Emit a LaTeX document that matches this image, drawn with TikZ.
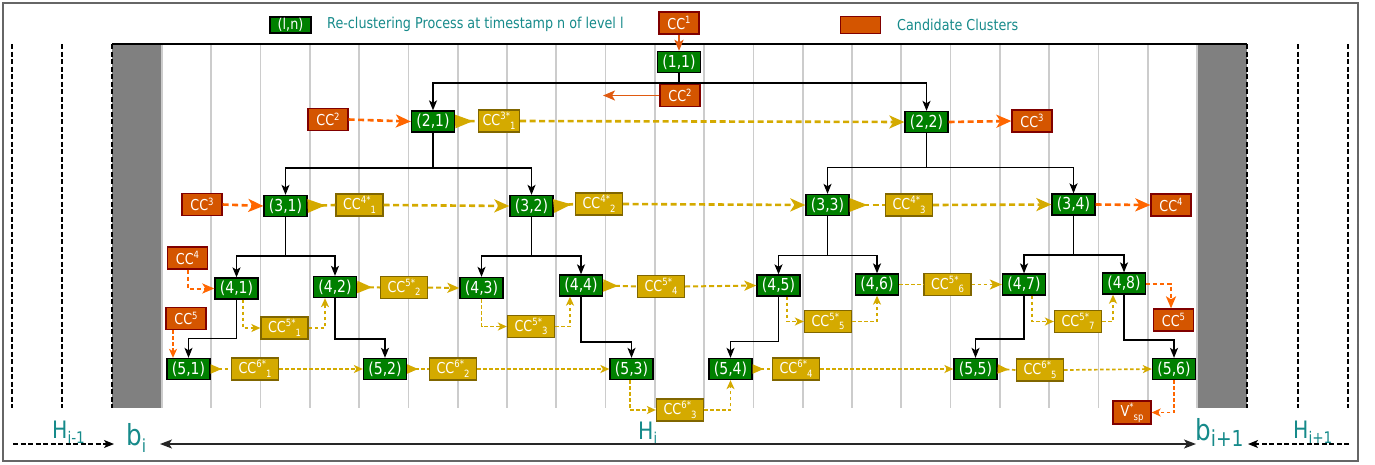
\documentclass[tikz,border=0pt]{standalone}
\usepackage{fontspec}
\newfontfamily\dvs[FakeStretch=0.85]{DejaVu Sans}
\usetikzlibrary{arrows.meta}
\newcommand\myfs[1]{\fontsize{#1}{#1}\selectfont}
\newcommand\ccone[1]{CC\raisebox{5.5pt}{\myfs{10}#1}}
\newcommand\cctwo[2]{CC\raisebox{6pt}{\myfs{10}#1}\raisebox{-3.5pt}{\myfs{10}#2}}
\definecolor{grnc}{HTML}{008000}
\definecolor{ylwc}{HTML}{D4AA00}
\definecolor{ylwb}{HTML}{806600}
\definecolor{orgc}{HTML}{D45500}
\definecolor{orgb}{HTML}{800000}
\definecolor{orga}{HTML}{FF6600}
\definecolor{orgs}{HTML}{E05A10}
\definecolor{gridc}{HTML}{CCCCCC}
\definecolor{barc}{HTML}{808080}
\definecolor{framec}{HTML}{666666}
\definecolor{tealc}{HTML}{168A8A}
\tikzset{
 bigS/.tip={Stealth[length=15pt,width=13pt,inset=4pt]},
 midS/.tip={Stealth[length=12pt,width=10pt,inset=3pt]},
 smlS/.tip={Stealth[length=9pt,width=8pt,inset=2.5pt]},
 bigR/.tip={Triangle[reversed,length=18pt,width=13pt]},
 midR/.tip={Triangle[reversed,length=15pt,width=12pt]},
 smlR/.tip={Triangle[reversed,length=11pt,width=9pt]},
 gbox/.style={draw=black, fill=grnc, line width=1.3pt, text=white, minimum width=43pt, minimum height=21pt, inner sep=0pt, font=\dvs\myfs{16.5}},
 ybox/.style={draw=ylwb, fill=ylwc, line width=1.3pt, text=white, minimum width=47pt, minimum height=22pt, inner sep=0pt, font=\dvs\myfs{15}},
 obox/.style={draw=orgb, fill=orgc, line width=1.3pt, text=white, minimum width=40pt, minimum height=22pt, inner sep=0pt, font=\dvs\myfs{15}},
 tree/.style={draw=black, line width=1.5pt, -{Stealth[length=10pt,width=8pt,inset=2.5pt]}},
 ythick/.style={draw=ylwc, line width=2.6pt, dash pattern=on 6pt off 3.5pt},
 ymid/.style={draw=ylwc, line width=2pt, dash pattern=on 5pt off 3pt},
 ythin/.style={draw=ylwc, line width=1.7pt, dash pattern=on 3.5pt off 2.5pt},
 othick/.style={draw=orga, line width=2.6pt, dash pattern=on 6pt off 3.5pt},
 omid/.style={draw=orga, line width=2pt, dash pattern=on 4pt off 3pt},
 othin/.style={draw=orga, line width=1.7pt, dash pattern=on 3.5pt off 2.5pt},
 osolid/.style={draw=orgs, line width=1.9pt},
 gridl/.style={draw=gridc, line width=1.6pt},
 dsh/.style={draw=black, line width=1.2pt, dash pattern=on 5pt off 2.5pt},
 lab/.style={text=tealc, inner sep=0pt, font=\dvs\myfs{15}},
 blab/.style={text=tealc, inner sep=0pt},
}
\begin{document}
\begin{tikzpicture}[x=1pt,y=-1pt]
\useasboundingbox (0,0) rectangle (1375,464);
\draw[framec, line width=2pt] (2.5,3) rectangle (1358,461);
% background scene
\fill[barc] (112,44) rectangle (162,408);
\fill[barc] (1197,44) rectangle (1247,408);
\foreach \k in {0,...,21} \draw[gridl] ({162+\k*49.2857},44) -- ({162+\k*49.2857},408);
\draw[black, line width=1.5pt] (112,44) -- (1247,44);
\foreach \xx in {12,62,112,1247,1298,1348} \draw[dsh] (\xx,44) -- (\xx,408);
% legend
\node[gbox, minimum width=41pt, minimum height=16pt, font=\dvs\myfs{15}] (lg) at (290.5,25) {(l,n)};
\node[lab, anchor=west] (lgt) at (327,24.5) {Re-clustering Process at timestamp n of level l};
\node[obox, minimum width=40pt, minimum height=17pt] (lo) at (860.5,25) {};
\node[lab, anchor=west] (lot) at (897,24.5) {Candidate Clusters};
% green nodes
\node[gbox] (n11) at (679,62) {(1,1)};
\node[gbox] (n21) at (433,121.5) {(2,1)};
\node[gbox] (n22) at (926.5,122) {(2,2)};
\node[gbox] (n31) at (285.5,206) {(3,1)};
\node[gbox] (n32) at (531.5,206) {(3,2)};
\node[gbox] (n33) at (827.5,205) {(3,3)};
\node[gbox] (n34) at (1073.5,204.5) {(3,4)};
\node[gbox] (n41) at (236.5,288.5) {(4,1)};
\node[gbox] (n42) at (335,287) {(4,2)};
\node[gbox] (n43) at (481.5,288) {(4,3)};
\node[gbox] (n44) at (581,285.5) {(4,4)};
\node[gbox] (n45) at (778.5,285.5) {(4,5)};
\node[gbox] (n46) at (877,284.5) {(4,6)};
\node[gbox] (n47) at (1024,284.5) {(4,7)};
\node[gbox] (n48) at (1124,283.5) {(4,8)};
\node[gbox] (n51) at (188.5,369) {(5,1)};
\node[gbox] (n52) at (385,369) {(5,2)};
\node[gbox] (n53) at (631.5,369) {(5,3)};
\node[gbox] (n54) at (730.5,369) {(5,4)};
\node[gbox] (n55) at (975.5,369) {(5,5)};
\node[gbox] (n56) at (1174,369) {(5,6)};
% yellow nodes
\node[ybox, minimum width=41pt] (y31) at (499,121) {\cctwo{3*}{1}};
\node[ybox] (y41) at (359.5,205) {\cctwo{4*}{1}};
\node[ybox] (y42) at (599,204) {\cctwo{4*}{2}};
\node[ybox] (y43) at (909,205) {\cctwo{4*}{3}};
\node[ybox] (y52) at (404,287.5) {\cctwo{5*}{2}};
\node[ybox] (y54) at (661,286.5) {\cctwo{5*}{4}};
\node[ybox] (y56) at (947.5,284.5) {\cctwo{5*}{6}};
\node[ybox] (y51) at (284.5,328) {\cctwo{5*}{1}};
\node[ybox] (y53) at (531,326.5) {\cctwo{5*}{3}};
\node[ybox] (y55) at (828,321.5) {\cctwo{5*}{5}};
\node[ybox] (y57) at (1078,321.5) {\cctwo{5*}{7}};
\node[ybox] (y61) at (255,369) {\cctwo{6*}{1}};
\node[ybox] (y62) at (453,369) {\cctwo{6*}{2}};
\node[ybox] (y63) at (680,410) {\cctwo{6*}{3}};
\node[ybox] (y64) at (796,369) {\cctwo{6*}{4}};
\node[ybox] (y65) at (1040,370) {\cctwo{6*}{5}};
% orange nodes
\node[obox] (o1) at (679,23) {\ccone{1}};
\node[obox] (o2a) at (680,95.5) {\ccone{2}};
\node[obox] (o2b) at (328,119.5) {\ccone{2}};
\node[obox] (o3a) at (1032,121) {\ccone{3}};
\node[obox] (o3b) at (202,204.5) {\ccone{3}};
\node[obox] (o4a) at (1171,205) {\ccone{4}};
\node[obox] (o4b) at (187.5,258) {\ccone{4}};
\node[obox] (o5a) at (186,318.5) {\ccone{5}};
\node[obox] (o5b) at (1173.5,320) {\ccone{5}};
\node[obox, minimum width=38pt, minimum height=23pt] (ov) at (1132,412.5) {V\raisebox{6pt}{\myfs{10}*}\raisebox{-4pt}{\myfs{10}sp}};
% tree connectors
\draw[tree] (n11.south) -- (n11.south |- 0,83) -| (n21.north);
\draw[tree] (n11.south) -- (n11.south |- 0,83) -| (n22.north);
\draw[tree] (n21.south) -- (n21.south |- 0,168) -| (n31.north);
\draw[tree] (n21.south) -- (n21.south |- 0,168) -| (n32.north);
\draw[tree] (n22.south) -- (n22.south |- 0,167.5) -| (n33.north);
\draw[tree] (n22.south) -- (n22.south |- 0,167.5) -| (n34.north);
\draw[tree] (n31.south) -- (n31.south |- 0,256) -| (n41.north);
\draw[tree] (n31.south) -- (n31.south |- 0,256) -| (n42.north);
\draw[tree] (n32.south) -- (n32.south |- 0,256) -| (n43.north);
\draw[tree] (n32.south) -- (n32.south |- 0,256) -| (n44.north);
\draw[tree] (n33.south) -- (n33.south |- 0,255.5) -| (n45.north);
\draw[tree] (n33.south) -- (n33.south |- 0,255.5) -| (n46.north);
\draw[tree] (n34.south) -- (n34.south |- 0,255) -| (n47.north);
\draw[tree] (n34.south) -- (n34.south |- 0,255) -| (n48.north);
\draw[tree] (n41.south) -- (n41.south |- 0,338.7) -| (n51.north);
\draw[tree] (n42.south) -- (n42.south |- 0,339) -| (n52.north);
\draw[tree] (n44.south) -- (n44.south |- 0,342) -| (n53.north);
\draw[tree] (n45.south) -- (n45.south |- 0,341.7) -| (n54.north);
\draw[tree] (n47.south) -- (n47.south |- 0,339) -| (n55.north);
\draw[tree] (n48.south) -- (n48.south |- 0,340) -| (n56.north);
% orange connectors
\coordinate (o2end) at (603,95.5);
\draw[osolid, -{Stealth[length=11pt,width=9pt,inset=2.5pt]}] (o1.south) -- (n11.north);
\draw[osolid, -{Stealth[length=12pt,width=10pt,inset=3pt]}] (o2a.west) -- (o2end);
\draw[othick, -bigS] (o2b.east) -- (n21.west);
\draw[othick, -bigS] (n22.east) -- (o3a.west);
\draw[othick, -bigS] (o3b.east) -- (n31.west);
\draw[othick, -bigS] (n34.east) -- (o4a.west);
\draw[omid, -midS] (o4b.south) |- (n41.west);
\draw[othin, -smlS] (o5a.south -| 173,0) -- (n51.north -| 173,0);
\draw[omid, -midS] (n48.east) -| (o5b.north -| 1171,0);
\draw[othin, -smlS] (n56.south) |- (ov.east);
% yellow connectors level 2-3
\draw[ythick, bigR-] (n21.east) -- (y31.west);
\draw[ythick, -bigS] (y31.east) -- (n22.west);
\draw[ythick, bigR-] (n31.east) -- (y41.west);
\draw[ythick, -bigS] (y41.east) -- (n32.west);
\draw[ythick, bigR-] (n32.east) -- (y42.west);
\draw[ythick, -bigS] (y42.east) -- (n33.west);
\draw[ythick, bigR-] (n33.east) -- (y43.west);
\draw[ythick, -bigS] (y43.east) -- (n34.west);
% level 4
\draw[ymid, midR-] (n42.east) -- (y52.west);
\draw[ymid, -midS] (y52.east) -- (n43.west);
\draw[ymid, midR-] (n44.east) -- (y54.west);
\draw[ymid, -midS] (y54.east) -- (n45.west);
\draw[ythin] (n46.east) -- (y56.west);
\draw[ythin, -midS] (y56.east) -- (n47.west);
\draw[ythin, -smlS] (n41.south -| 243,0) |- (y51.west);
\draw[ythin, -smlS] (y51.east) -| (n42.south -| 325,0);
\draw[ythin, -smlS] (n43.south) |- (y53.west);
\draw[ythin, -smlS] (y53.east) -| (n44.south -| 570,0);
\draw[ythin, -smlS] (n45.south -| 787,0) |- (y55.west);
\draw[ythin, -smlS] (y55.east) -| (n46.south);
\draw[ythin, -smlS] (n47.south -| 1032,0) |- (y57.west);
\draw[ythin, -smlS] (y57.east) -| (n48.south -| 1113,0);
% level 5
\draw[ythin, smlR-] (n51.east) -- (y61.west);
\draw[ythin, -smlS] (y61.east) -- (n52.west);
\draw[ythin, smlR-] (n52.east) -- (y62.west);
\draw[ythin, -smlS] (y62.east) -- (n53.west);
\draw[ythin, -smlS] (n53.south -| 630,0) |- (y63.west);
\draw[ythin, -smlS] (y63.east) -| (n54.south);
\draw[ythin, smlR-] (n54.east) -- (y64.west);
\draw[ythin, -smlS] (y64.east) -- (n55.west);
\draw[ythin, smlR-] (n55.east) -- (y65.west);
\draw[ythin, -smlS] (y65.east) -- (n56.west);
% bottom span arrows
\coordinate (a1) at (13,444);
\coordinate (a2) at (114,444);
\coordinate (c1) at (160,444);
\coordinate (c2) at (1196,444);
\coordinate (d1) at (1349,444);
\coordinate (d2) at (1248,444);
\draw[dsh, -{Stealth[length=10pt,width=8pt,inset=2.5pt]}] (a1) -- (a2);
\draw[draw=black!85, line width=1.5pt, {Stealth[length=12pt,width=9pt,inset=3pt]}-{Stealth[length=12pt,width=9pt,inset=3pt]}] (c1) -- (c2);
\draw[dsh, -{Stealth[length=10pt,width=8pt,inset=2.5pt]}] (d1) -- (d2);
\node[blab, anchor=base west, font=\dvs\myfs{24}] (hm) at (52,438) {H\raisebox{-5pt}{\myfs{16}i-1}};
\node[blab, anchor=base west, font=\dvs\myfs{29}] (bi) at (126,445) {b\raisebox{-7pt}{\myfs{18}i}};
\node[blab, anchor=base west, font=\dvs\myfs{24}] (hi) at (638,439) {H\raisebox{-4pt}{\myfs{15}i}};
\node[blab, anchor=base west, font=\dvs\myfs{29}] (bj) at (1195,440) {b\raisebox{-6pt}{\myfs{22}i+1}};
\node[blab, anchor=base west, font=\dvs\myfs{24}] (hp) at (1293,438) {H\raisebox{-5pt}{\myfs{16}i+1}};
\end{tikzpicture}
\end{document}
